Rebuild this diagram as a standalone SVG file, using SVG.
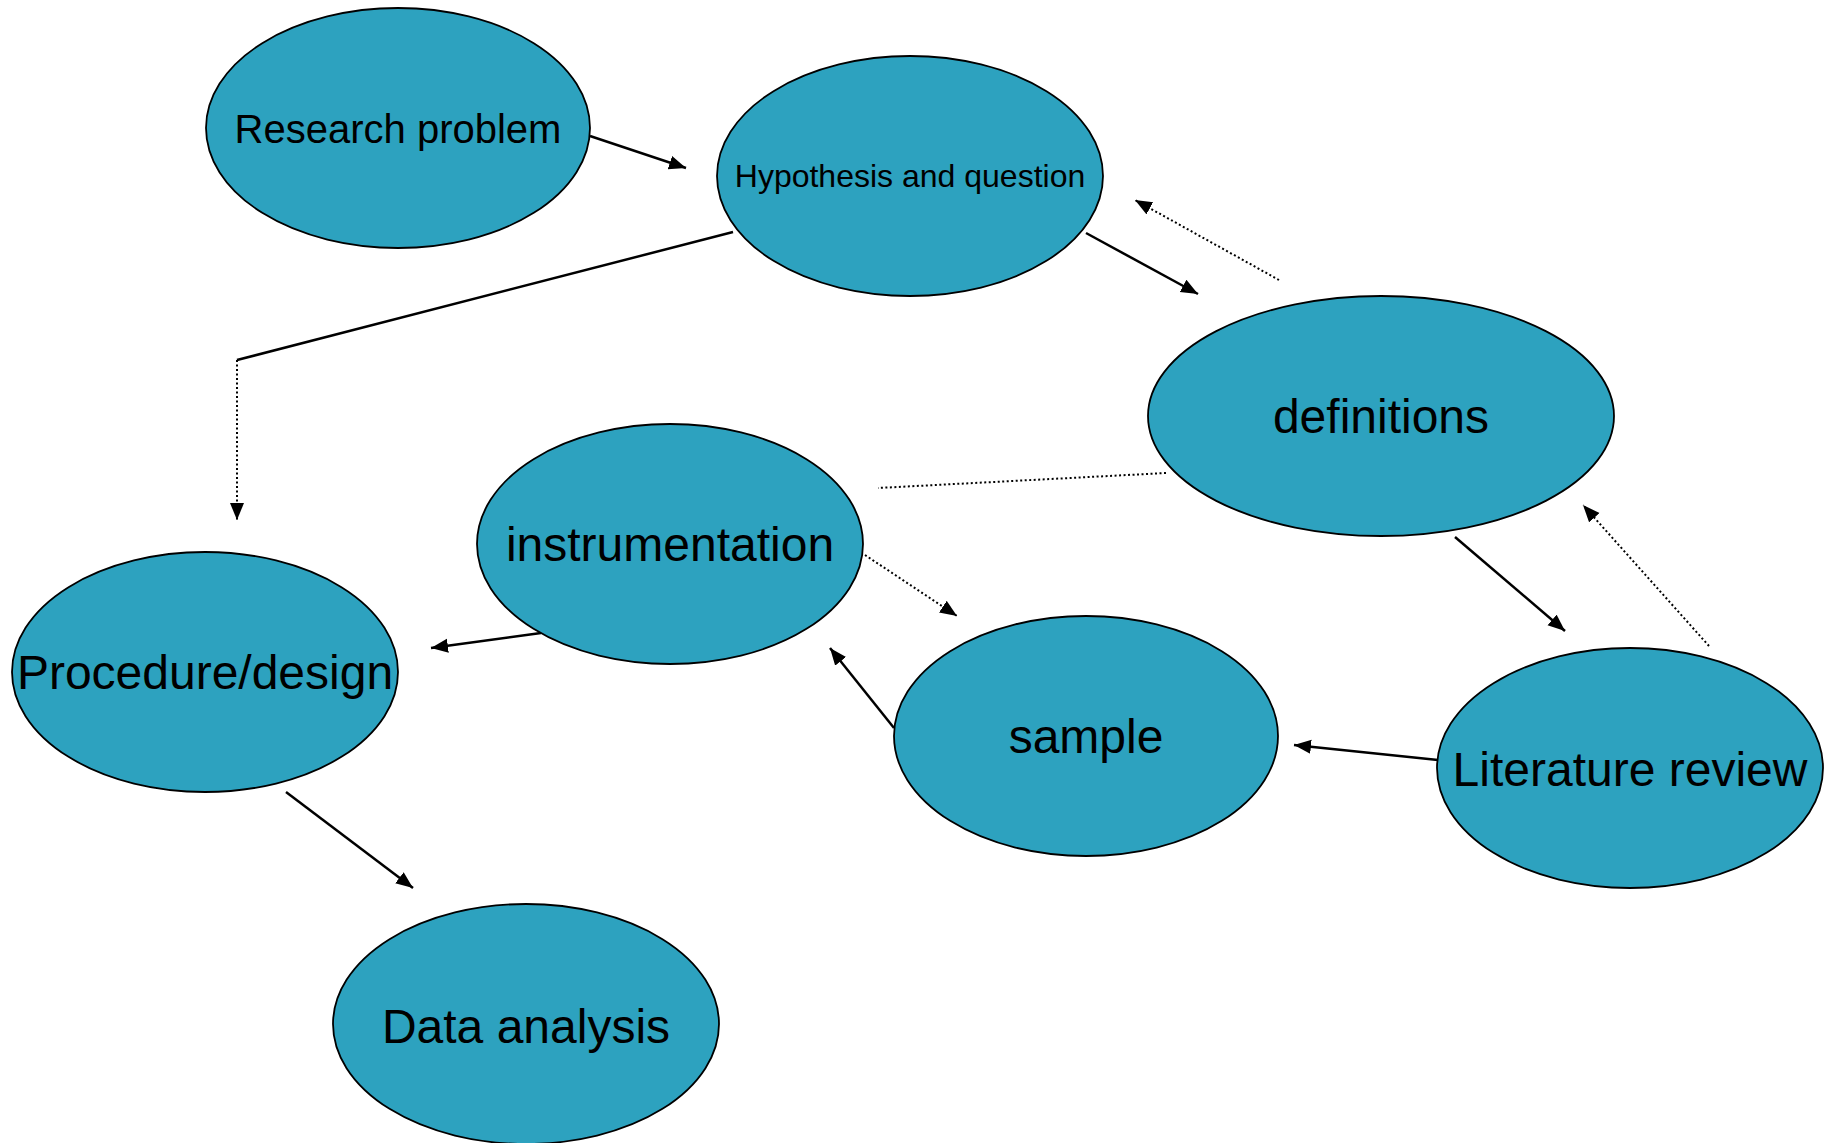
<svg xmlns="http://www.w3.org/2000/svg" width="1825" height="1143" viewBox="0 0 1825 1143">
<style>
.node ellipse{fill:#2da2bf;stroke:#000;stroke-width:1.8}
.node text{font-family:"Liberation Sans",Arial,sans-serif;fill:#000;text-anchor:middle}
.c{fill:none;stroke:#000;stroke-width:2.5}
.d{fill:none;stroke:#000;stroke-width:2;stroke-dasharray:2 2.5}
</style>
<defs>
<marker id="ah" markerUnits="userSpaceOnUse" markerWidth="20" markerHeight="16" refX="17" refY="7" orient="auto">
<path d="M0,0 L17,7 L0,14 z" fill="#000"/>
</marker>
</defs>
<rect width="1825" height="1143" fill="#fff"/>
<g id="connectors">
<line class="c" x1="590" y1="136" x2="686" y2="168" marker-end="url(#ah)"/>
<line class="c" x1="1086" y1="233" x2="1198" y2="294" marker-end="url(#ah)"/>
<line class="d" x1="1279" y1="280" x2="1135" y2="200" marker-end="url(#ah)"/>
<polyline class="c" points="733,232 237,360"/>
<line class="d" x1="237" y1="360" x2="237" y2="520" marker-end="url(#ah)"/>
<line class="d" x1="1166" y1="473" x2="878" y2="488"/>
<line class="d" x1="865" y1="555" x2="957" y2="616" marker-end="url(#ah)"/>
<line class="c" x1="541" y1="633" x2="431" y2="648" marker-end="url(#ah)"/>
<line class="c" x1="894" y1="728" x2="830" y2="648" marker-end="url(#ah)"/>
<line class="c" x1="1438" y1="760" x2="1294" y2="745" marker-end="url(#ah)"/>
<line class="c" x1="1455" y1="537" x2="1565" y2="631" marker-end="url(#ah)"/>
<line class="d" x1="1709" y1="646" x2="1583" y2="505" marker-end="url(#ah)"/>
<line class="c" x1="286" y1="792" x2="413" y2="888" marker-end="url(#ah)"/>
</g>
<g id="research-problem" class="node"><ellipse cx="398" cy="128" rx="192" ry="120"/><text x="398" y="143" font-size="40">Research problem</text></g>
<g id="hypothesis" class="node"><ellipse cx="910" cy="176" rx="193" ry="120"/><text x="910" y="187" font-size="32">Hypothesis and question</text></g>
<g id="definitions" class="node"><ellipse cx="1381" cy="416" rx="233" ry="120"/><text x="1381" y="433" font-size="48">definitions</text></g>
<g id="instrumentation" class="node"><ellipse cx="670" cy="544" rx="193" ry="120"/><text x="670" y="561" font-size="48">instrumentation</text></g>
<g id="procedure-design" class="node"><ellipse cx="205" cy="672" rx="193" ry="120"/><text x="205" y="689" font-size="48">Procedure/design</text></g>
<g id="sample" class="node"><ellipse cx="1086" cy="736" rx="192" ry="120"/><text x="1086" y="753" font-size="48">sample</text></g>
<g id="literature-review" class="node"><ellipse cx="1630" cy="768" rx="193" ry="120"/><text x="1630" y="786" font-size="48">Literature review</text></g>
<g id="data-analysis" class="node"><ellipse cx="526" cy="1024" rx="193" ry="120"/><text x="526" y="1043" font-size="48">Data analysis</text></g>
</svg>
